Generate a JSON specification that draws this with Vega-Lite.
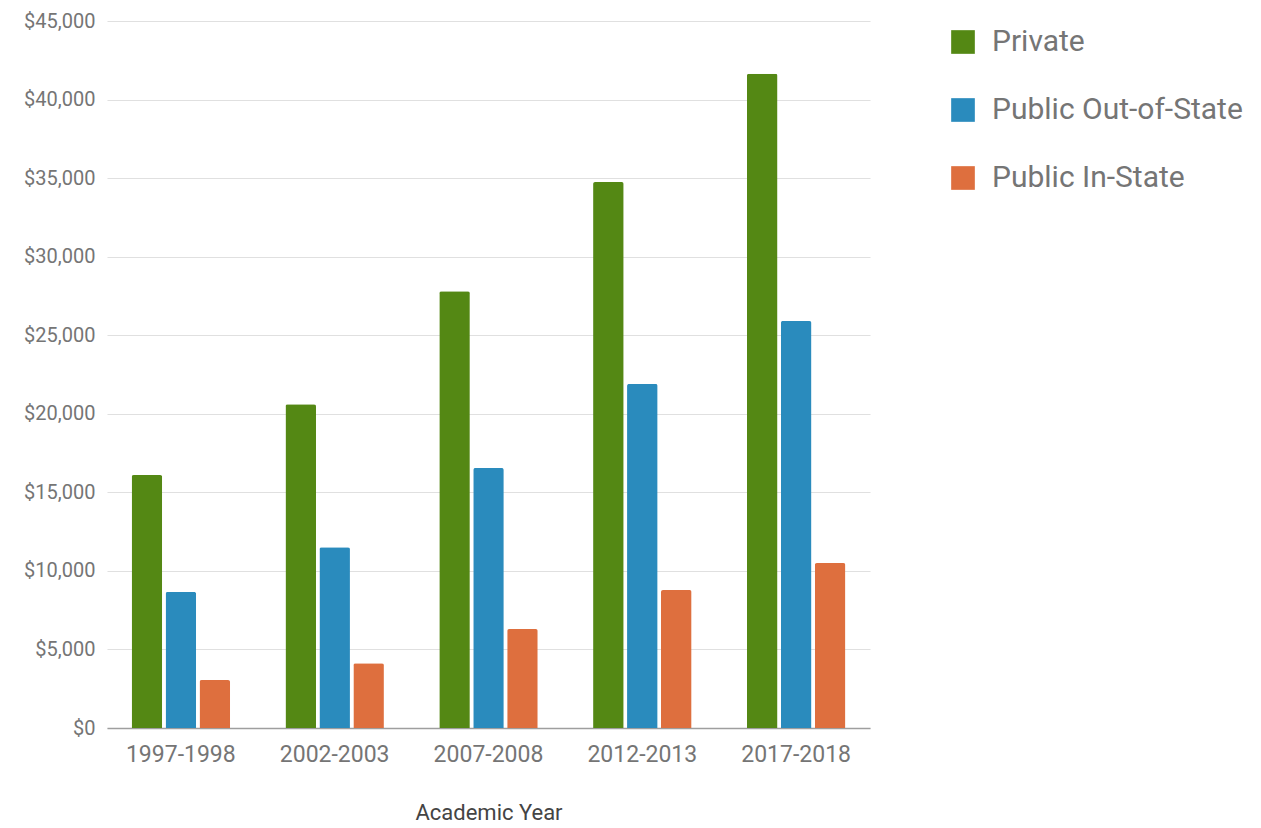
{
  "$schema": "https://vega.github.io/schema/vega-lite/v6.json",
  "autosize": "none",
  "width": 763,
  "height": 707,
  "padding": {"left": 107, "top": 21, "right": 391, "bottom": 100},
  "background": "white",
  "config": {
    "font": "Roboto",
    "view": {"stroke": null}
  },
  "data": {
    "values": [
      {"year": "1997-1998", "type": "Private", "cost": 16100},
      {"year": "1997-1998", "type": "Public Out-of-State", "cost": 8660},
      {"year": "1997-1998", "type": "Public In-State", "cost": 3050},
      {"year": "2002-2003", "type": "Private", "cost": 20600},
      {"year": "2002-2003", "type": "Public Out-of-State", "cost": 11500},
      {"year": "2002-2003", "type": "Public In-State", "cost": 4120},
      {"year": "2007-2008", "type": "Private", "cost": 27800},
      {"year": "2007-2008", "type": "Public Out-of-State", "cost": 16550},
      {"year": "2007-2008", "type": "Public In-State", "cost": 6300},
      {"year": "2012-2013", "type": "Private", "cost": 34750},
      {"year": "2012-2013", "type": "Public Out-of-State", "cost": 21900},
      {"year": "2012-2013", "type": "Public In-State", "cost": 8780},
      {"year": "2017-2018", "type": "Private", "cost": 41650},
      {"year": "2017-2018", "type": "Public Out-of-State", "cost": 25900},
      {"year": "2017-2018", "type": "Public In-State", "cost": 10500}
    ]
  },
  "mark": {"type": "bar", "cornerRadiusTopLeft": 2, "cornerRadiusTopRight": 2},
  "encoding": {
    "x": {
      "field": "year",
      "type": "nominal",
      "scale": {"paddingInner": 0.36, "paddingOuter": 0.16},
      "axis": {
        "title": "Academic Year",
        "titleFontSize": 22,
        "titleFontWeight": "normal",
        "titleColor": "#444444",
        "titlePadding": 36,
        "labelAngle": 0,
        "labelFontSize": 23,
        "labelColor": "#757575",
        "labelPadding": 15,
        "ticks": false,
        "domainColor": "#9e9e9e",
        "domainWidth": 1.5
      }
    },
    "xOffset": {
      "field": "type",
      "type": "nominal",
      "sort": ["Private", "Public Out-of-State", "Public In-State"],
      "scale": {"paddingInner": 0.1}
    },
    "y": {
      "field": "cost",
      "type": "quantitative",
      "scale": {"domain": [0, 45000], "nice": false},
      "axis": {
        "title": null,
        "values": [0, 5000, 10000, 15000, 20000, 25000, 30000, 35000, 40000, 45000],
        "format": "$,.0f",
        "labelFontSize": 20,
        "labelColor": "#757575",
        "labelPadding": 12,
        "ticks": false,
        "domain": false,
        "gridColor": "#e0e0e0",
        "gridWidth": 1.2
      }
    },
    "color": {
      "field": "type",
      "type": "nominal",
      "sort": ["Private", "Public Out-of-State", "Public In-State"],
      "scale": {
        "domain": ["Private", "Public Out-of-State", "Public In-State"],
        "range": ["#548814", "#2a8bbd", "#de6f3e"]
      },
      "legend": {
        "title": null,
        "orient": "none",
        "legendX": 841,
        "legendY": 6,
        "symbolType": "square",
        "symbolSize": 560,
        "symbolStrokeWidth": 0,
        "labelFontSize": 30,
        "labelLimit": 400,
        "labelColor": "#757575",
        "labelOffset": 14,
        "rowPadding": 38
      }
    }
  }
}
